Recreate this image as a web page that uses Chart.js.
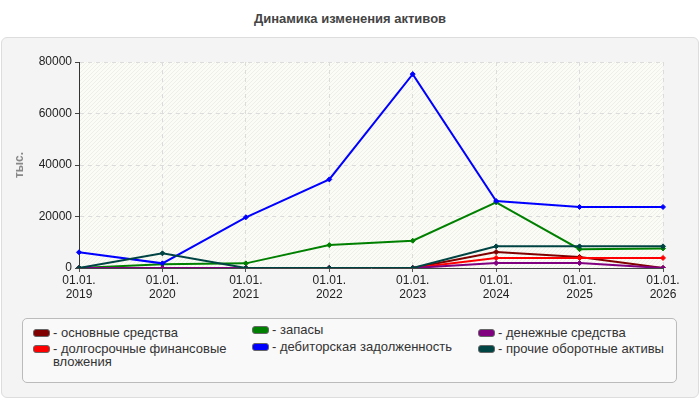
<!DOCTYPE html>
<html>
<head>
<meta charset="utf-8">
<script src="https://cdn.jsdelivr.net/npm/chart.js@4"></script>
<style>
  body { margin: 0; background: #fff; font-family: "Liberation Sans", Arial, sans-serif; }
  #title { position: absolute; left: 0; width: 700px; top: 11px; text-align: center; font-weight: bold; font-size: 13px; color: #444; }
  #panel { position: absolute; left: 1px; top: 37px; width: 696px; height: 359px; background: #f4f4f4; border: 1px solid #ddd; border-radius: 6px; }
  #wrap { position: absolute; left: 0; top: 0; width: 700px; height: 310px; }
  #legend { position: absolute; left: 22px; top: 318px; width: 653px; height: 63px; background: #f9f9f9; border: 1px solid #bbb; border-radius: 5px; }
  .item { position: absolute; font-size: 13px; color: #333; line-height: 13px; display: flex; }
  .sw { width: 15px; height: 6px; border-radius: 3px; margin-top: 2.5px; margin-right: 3px; flex: none; }
</style>
</head>
<body>
<div id="title">Динамика изменения активов</div>
<div id="panel"></div>
<div id="wrap"><canvas id="chart"></canvas></div>
<div id="legend"></div>
<script>
// даты отчётов
const labels = ['2019', '2020', '2021', '2022', '2023', '2024', '2025', '2026'];

// значения, тыс.
const osnovnye = [0, 0, 0, 0, 0, 6200, 4300, 0];
const dolgosrochnye = [0, 0, 0, 0, 0, 3900, 3900, 3900];
const zapasy = [0, 1500, 1800, 8900, 10600, 25500, 7300, 7600];
const debitorskaya = [6100, 1800, 19700, 34400, 75300, 26000, 23700, 23700];
const denezhnye = [0, 0, 0, 0, 0, 1900, 1900, 0];
const prochie = [0, 5700, 0, 0, 0, 8400, 8400, 8400];

const yTicks = [0, 20000, 40000, 60000, 80000];

const series = [
  { name: 'основные средства', data: osnovnye, color: '#800000', pos: [10, 7, 215] },
  { name: 'долгосрочные финансовые вложения', data: dolgosrochnye, color: '#ff0000', pos: [10, 23, 215] },
  { name: 'запасы', data: zapasy, color: '#008000', pos: [229, 4, 220] },
  { name: 'дебиторская задолженность', data: debitorskaya, color: '#0000ff', pos: [229, 21, 220] },
  { name: 'денежные средства', data: denezhnye, color: '#800080', pos: [455, 7, 195] },
  { name: 'прочие оборотные активы', data: prochie, color: '#004444', pos: [455, 23, 195] }
];

// легенда
const legend = document.getElementById('legend');
series.forEach(s => {
  const el = document.createElement('div');
  el.className = 'item';
  el.style.left = s.pos[0] + 'px';
  el.style.top = s.pos[1] + 'px';
  el.style.width = s.pos[2] + 'px';
  el.innerHTML = `<span class="sw" style="background:${s.color};border:1px solid #666"></span><span>- ${s.name}</span>`;
  legend.appendChild(el);
});

const hatchBg = {
  id: 'hatchBg',
  beforeDraw(chart) {
    const { ctx, chartArea: a } = chart;
    ctx.save();
    ctx.fillStyle = '#fcfcf7';
    ctx.fillRect(a.left, a.top, a.right - a.left, a.bottom - a.top);
    ctx.beginPath();
    ctx.rect(a.left, a.top, a.right - a.left, a.bottom - a.top);
    ctx.clip();
    ctx.strokeStyle = '#efefe9';
    ctx.lineWidth = 1;
    const h = a.bottom - a.top;
    for (let x = a.left - h; x < a.right; x += 4) {
      ctx.beginPath();
      ctx.moveTo(x, a.bottom);
      ctx.lineTo(x + h, a.top);
      ctx.stroke();
    }
    ctx.restore();
  }
};

new Chart(document.getElementById('chart'), {
  type: 'line',
  data: {
    labels: labels.map(y => ['01.01.', y]),
    datasets: series.map((s, i) => ({
      label: s.name,
      data: s.data,
      borderColor: s.color,
      backgroundColor: s.color,
      borderWidth: 2,
      pointStyle: 'rectRot',
      pointRadius: 2.5,
      pointBorderWidth: 1,
      tension: 0,
      order: series.length - i
    }))
  },
  options: {
    responsive: true,
    maintainAspectRatio: false,
    animation: false,
    layout: { padding: { left: 0, right: 37, top: 62, bottom: 0 } },
    plugins: { legend: { display: false }, tooltip: { enabled: false } },
    scales: {
      x: {
        afterFit: s => { s.height = 42; },
        grid: { color: '#dcdcdc', tickColor: '#555', tickLength: 4 },
        border: { color: '#444', dash: [4, 4] },
        ticks: {
          color: '#222',
          font: { family: 'Liberation Sans', size: 12 },
          padding: 1,
          maxRotation: 0,
          autoSkip: false
        }
      },
      y: {
        min: 0,
        max: 80000,
        afterFit: s => { s.width = 79; },
        afterBuildTicks: s => { s.ticks = yTicks.map(v => ({ value: v })); },
        grid: { color: '#dcdcdc', tickColor: '#444', tickLength: 4 },
        border: { color: '#333', dash: [4, 4] },
        ticks: {
          color: '#222',
          font: { family: 'Liberation Sans', size: 12 },
          padding: 3,
          callback: v => String(v)
        },
        title: {
          display: true,
          text: 'тыс.',
          color: '#888',
          font: { family: 'Liberation Sans', size: 12, weight: 'bold' },
          padding: { top: 12, bottom: 0 }
        }
      }
    }
  },
  plugins: [hatchBg]
});
</script>
</body>
</html>
